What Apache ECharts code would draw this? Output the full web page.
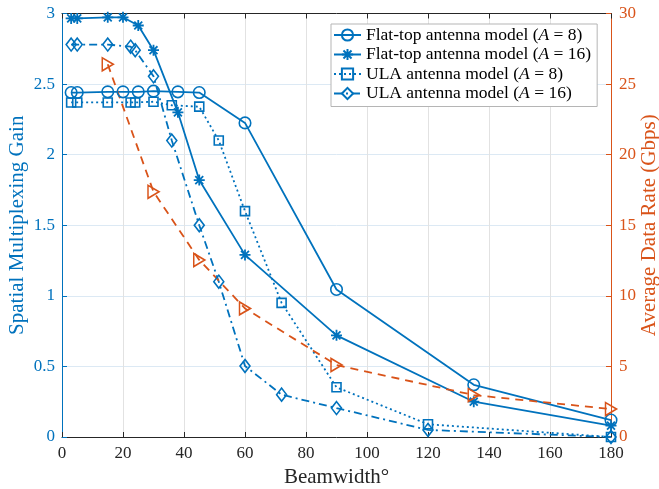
<!DOCTYPE html>
<html>
<head>
<meta charset="utf-8">
<script src="https://cdn.jsdelivr.net/npm/echarts@6/dist/echarts.min.js"></script>
<style>
  html, body { margin: 0; padding: 0; background: #fff; }
  #chart { width: 659px; height: 489px; }
</style>
</head>
<body>
<div id="chart"></div>
<script>
// Beamwidths (degrees) and measured values
const beamFlat = [3, 5, 15, 20, 25, 30, 38, 45, 60, 90, 135, 180];
const gainFlat8 = [2.44, 2.44, 2.445, 2.445, 2.445, 2.45, 2.445, 2.44, 2.225, 1.045, 0.37, 0.12];
const gainFlat16 = [2.965, 2.965, 2.973, 2.973, 2.915, 2.74, 2.30, 1.82, 1.29, 0.72, 0.25, 0.08];

const beamUla = [3, 5, 15, 22.5, 24, 30, 36, 45, 51.4, 60, 72, 90, 120, 180];
const gainUla8 = [2.37, 2.37, 2.37, 2.37, 2.37, 2.375, 2.35, 2.34, 2.10, 1.60, 0.95, 0.352, 0.09, 0.0];
const gainUla16 = [2.78, 2.78, 2.78, 2.765, 2.74, 2.555, 2.10, 1.50, 1.10, 0.503, 0.30, 0.205, 0.05, 0.0];

const beamRate = [15, 30, 45, 60, 90, 135, 180];
const rateGbps = [26.4, 17.37, 12.54, 9.11, 5.1, 2.97, 1.98];

const BLUE = '#0072BD';
const ORANGE = '#D95319';
const INK = '#262626';
const SERIF = '"Liberation Serif", "DejaVu Serif", serif';

// MATLAB-style '*' marker: plus and cross combined
const ASTERISK = 'path://M0,-1L0,1M-1,0L1,0M-0.72,-0.72L0.72,0.72M-0.72,0.72L0.72,-0.72';

function pairs(xs, ys) { return xs.map((x, i) => [x, ys[i]]); }

function hollow(color) {
  return { color: 'rgba(255,255,255,0)', borderColor: color, borderWidth: 1.6 };
}

const chart = echarts.init(document.getElementById('chart'), null, { renderer: 'canvas' });

chart.setOption({
  animation: false,
  backgroundColor: '#fff',
  textStyle: { fontFamily: SERIF },
  grid: {
    left: 62, right: 48, top: 13.5, bottom: 52,
    containLabel: false, outerBoundsMode: 'none'
  },
  legend: {
    left: 331, top: 24,
    orient: 'vertical',
    backgroundColor: '#fff',
    borderColor: '#b5b5b5', borderWidth: 1,
    padding: [2, 6, 4, 2],
    itemWidth: 27, itemHeight: 14, itemGap: 1.5,
    data: [
      'Flat-top antenna model (A = 8)',
      'Flat-top antenna model (A = 16)',
      'ULA antenna model (A = 8)',
      'ULA antenna model (A = 16)'
    ],
    formatter: n => n.replace('(A', '({i|A}'),
    textStyle: {
      fontFamily: SERIF, fontSize: 17.5, color: '#000',
      rich: { i: { fontFamily: SERIF, fontSize: 17.5, fontStyle: 'italic', color: '#000' } }
    }
  },
  xAxis: [
    {
      type: 'value', position: 'bottom', min: 0, max: 180, interval: 20,
      name: 'Beamwidth°', nameLocation: 'middle', nameGap: 30, nameMoveOverlap: false,
      nameTextStyle: { fontFamily: SERIF, fontSize: 21, color: INK },
      axisLine: { show: true, onZero: false, lineStyle: { color: INK, width: 1 } },
      axisTick: { show: true, inside: true, length: 5, lineStyle: { color: INK } },
      axisLabel: { fontFamily: SERIF, fontSize: 17, color: INK, margin: 8 },
      splitLine: { show: true, lineStyle: { color: '#e2e2e2', width: 1 } }
    },
    {
      type: 'value', position: 'top', min: 0, max: 180, interval: 20,
      axisLine: { show: true, onZero: false, lineStyle: { color: INK, width: 1 } },
      axisTick: { show: true, inside: true, length: 5, lineStyle: { color: INK } },
      axisLabel: { show: false },
      splitLine: { show: false }
    }
  ],
  yAxis: [
    {
      type: 'value', position: 'left', min: 0, max: 3, interval: 0.5,
      name: 'Spatial Multiplexing Gain', nameLocation: 'middle', nameGap: 34,
      nameMoveOverlap: false,
      nameTextStyle: { fontFamily: SERIF, fontSize: 21, color: BLUE },
      axisLine: { show: true, onZero: false, lineStyle: { color: BLUE, width: 1 } },
      axisTick: { show: true, inside: true, length: 5, lineStyle: { color: BLUE } },
      axisLabel: { fontFamily: SERIF, fontSize: 17, color: BLUE, margin: 7 },
      splitLine: { show: true, lineStyle: { color: '#dce9f4', width: 1 } }
    },
    {
      type: 'value', position: 'right', min: 0, max: 30, interval: 5,
      name: 'Average Data Rate (Gbps)', nameLocation: 'middle', nameGap: 28,
      nameRotate: 90, nameMoveOverlap: false,
      nameTextStyle: { fontFamily: SERIF, fontSize: 21, color: ORANGE },
      axisLine: { show: true, onZero: false, lineStyle: { color: ORANGE, width: 1 } },
      axisTick: { show: true, inside: true, length: 5, lineStyle: { color: ORANGE } },
      axisLabel: { fontFamily: SERIF, fontSize: 17, color: ORANGE, margin: 8 },
      splitLine: { show: false }
    }
  ],
  series: [
    {
      name: 'Flat-top antenna model (A = 8)', type: 'line',
      xAxisIndex: 0, yAxisIndex: 0, clip: false, showAllSymbol: true,
      data: pairs(beamFlat, gainFlat8),
      symbol: 'circle', symbolSize: 11.5,
      itemStyle: hollow(BLUE),
      lineStyle: { color: BLUE, width: 1.8, type: 'solid' }
    },
    {
      name: 'Flat-top antenna model (A = 16)', type: 'line',
      xAxisIndex: 0, yAxisIndex: 0, clip: false, showAllSymbol: true,
      data: pairs(beamFlat, gainFlat16),
      symbol: ASTERISK, symbolSize: 11,
      itemStyle: { color: BLUE, borderColor: BLUE, borderWidth: 1.8 },
      lineStyle: { color: BLUE, width: 1.8, type: 'solid' }
    },
    {
      name: 'ULA antenna model (A = 8)', type: 'line',
      xAxisIndex: 0, yAxisIndex: 0, clip: false, showAllSymbol: true,
      data: pairs(beamUla, gainUla8),
      symbol: 'rect', symbolSize: 9,
      itemStyle: hollow(BLUE),
      lineStyle: { color: BLUE, width: 1.8, type: [2, 3] }
    },
    {
      name: 'ULA antenna model (A = 16)', type: 'line',
      xAxisIndex: 0, yAxisIndex: 0, clip: false, showAllSymbol: true,
      data: pairs(beamUla, gainUla16),
      symbol: 'diamond', symbolSize: [10, 13],
      itemStyle: hollow(BLUE),
      lineStyle: { color: BLUE, width: 1.8, type: [8, 4, 2, 4] }
    },
    {
      name: 'Average data rate', type: 'line',
      xAxisIndex: 0, yAxisIndex: 1, clip: false, showAllSymbol: true,
      data: pairs(beamRate, rateGbps),
      symbol: 'triangle', symbolSize: [13, 11], symbolRotate: -90,
      itemStyle: hollow(ORANGE),
      lineStyle: { color: ORANGE, width: 1.8, type: [8, 6] }
    }
  ]
});
</script>
</body>
</html>
